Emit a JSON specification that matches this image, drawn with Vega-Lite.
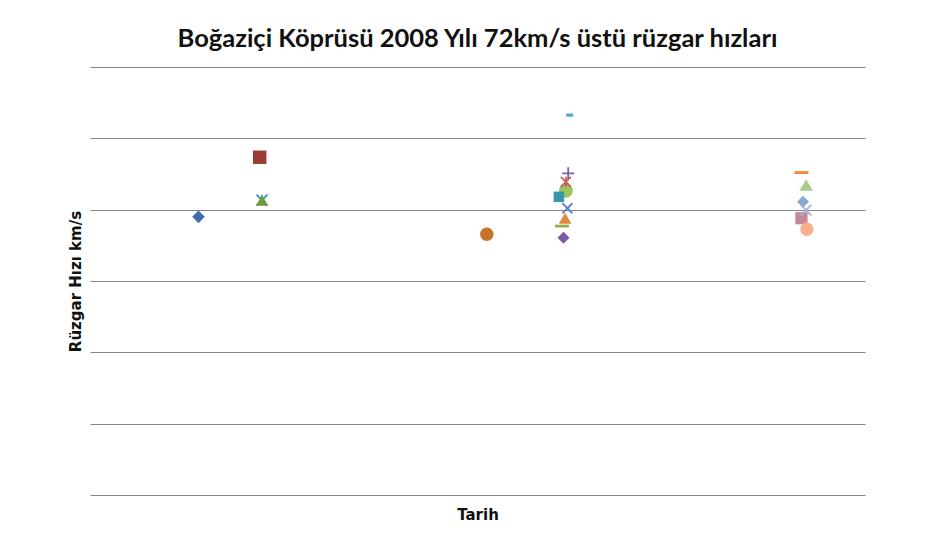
{
  "$schema": "https://vega.github.io/schema/vega-lite/v6.json",
  "width": 775,
  "height": 428,
  "autosize": {"type": "none"},
  "padding": {"left": 90, "top": 67, "right": 65, "bottom": 56},
  "background": "white",
  "title": {
    "text": "Boğaziçi Köprüsü  2008 Yılı 72km/s üstü rüzgar hızları",
    "font": "Lato",
    "fontSize": 25.5,
    "fontWeight": "bold",
    "color": "#111111",
    "anchor": "middle",
    "offset": 15
  },
  "config": {
    "view": {"stroke": null},
    "axis": {"titleFont": "DejaVu Sans", "titleFontWeight": "bold", "titleColor": "#111111"}
  },
  "data": {
    "values": [
      {"seri": "S01", "gun": 14.0, "hiz": 78.0},
      {"seri": "S02", "gun": 21.9, "hiz": 94.7},
      {"seri": "S03", "gun": 22.2, "hiz": 82.7},
      {"seri": "S04", "gun": 22.2, "hiz": 82.7},
      {"seri": "S05", "gun": 22.2, "hiz": 82.6},
      {"seri": "S06", "gun": 51.2, "hiz": 73.1},
      {"seri": "S07", "gun": 61.9, "hiz": 106.5},
      {"seri": "S08", "gun": 61.7, "hiz": 90.2},
      {"seri": "S09", "gun": 61.4, "hiz": 87.8},
      {"seri": "S10", "gun": 61.4, "hiz": 85.3},
      {"seri": "S11", "gun": 60.5, "hiz": 83.6},
      {"seri": "S12", "gun": 61.6, "hiz": 80.4},
      {"seri": "S13", "gun": 61.3, "hiz": 77.6},
      {"seri": "S14", "gun": 60.9, "hiz": 75.4},
      {"seri": "S15", "gun": 61.1, "hiz": 72.1},
      {"seri": "S16", "gun": 91.8, "hiz": 90.4},
      {"seri": "S17", "gun": 92.4, "hiz": 86.9},
      {"seri": "S18", "gun": 92.0, "hiz": 82.2},
      {"seri": "S19", "gun": 92.4, "hiz": 79.9},
      {"seri": "S20", "gun": 91.8, "hiz": 77.6},
      {"seri": "S21", "gun": 92.5, "hiz": 74.5}
    ]
  },
  "encoding": {
    "x": {
      "field": "gun",
      "type": "quantitative",
      "scale": {"domain": [0, 100]},
      "axis": {"title": "Tarih", "titleFontSize": 15, "titlePadding": 12, "labels": false, "ticks": false, "domain": false, "grid": false}
    },
    "y": {
      "field": "hiz",
      "type": "quantitative",
      "scale": {"domain": [0, 120]},
      "axis": {"title": "Rüzgar Hızı km/s", "titleFontSize": 15, "titlePadding": 7, "labels": false, "ticks": false, "domain": false, "grid": true, "values": [0, 20, 40, 60, 80, 100, 120], "gridColor": "#868686", "gridWidth": 1.2, "gridOpacity": 1}
    },
    "color": {
      "field": "seri",
      "type": "nominal",
      "legend": null,
      "scale": {
        "domain": ["S01","S02","S03","S04","S05","S06","S07","S08","S09","S10","S11","S12","S13","S14","S15","S16","S17","S18","S19","S20","S21"],
        "range": ["#3F6FAA","#9B3B38","#8FA0C4","#3AA0B8","#6E9A3E","#C8732A","#4BACC6","#7A5FA6","#C4605B","#9BC45A","#3597A8","#5B84C4","#E08A40","#8DB050","#7B5BA8","#F0883C","#A9CB8E","#8AA8D8","#9DB3DA","#C48A94","#F9B08A"]
      }
    },
    "shape": {
      "field": "seri",
      "type": "nominal",
      "legend": null,
      "scale": {
        "domain": ["S01","S02","S03","S04","S05","S06","S07","S08","S09","S10","S11","S12","S13","S14","S15","S16","S17","S18","S19","S20","S21"],
        "range": ["diamond","square","M-1,-1L1,1M-1,1L1,-1","M-1,-1L1,1M-1,1L1,-1M0,-1V1","triangle-up","circle","M-1,-0.45H1V0.45H-1Z","M-1,0H1M0,-1V1","M-1,-1L1,1M-1,1L1,-1M0,-1V1","circle","square","M-1,-1L1,1M-1,1L1,-1","triangle-up","M-1,-0.2H1V0.2H-1Z","diamond","M-1,-0.2H1V0.2H-1Z","triangle-up","diamond","M-1,-1L1,1M-1,1L1,-1","square","circle"]
      }
    },
    "size": {
      "field": "seri",
      "type": "nominal",
      "legend": null,
      "scale": {
        "type": "ordinal",
        "domain": ["S01","S02","S03","S04","S05","S06","S07","S08","S09","S10","S11","S12","S13","S14","S15","S16","S17","S18","S19","S20","S21"],
        "range": [160, 180, 120, 110, 150, 180, 49, 144, 100, 196, 110, 100, 160, 196, 144, 196, 180, 144, 110, 150, 180]
      }
    }
  },
  "layer": [
    {
      "transform": [{"filter": {"field": "seri", "oneOf": ["S03","S04"]}}],
      "mark": {"type": "point", "filled": false, "opacity": 1, "strokeWidth": 1.8}
    },
    {
      "transform": [{"filter": {"field": "seri", "oneOf": ["S01","S02","S05","S06","S07","S10","S11","S13","S14","S15","S16","S17","S18","S20","S21"]}}],
      "mark": {"type": "point", "filled": true, "opacity": 1, "strokeWidth": 0}
    },
    {
      "transform": [{"filter": {"field": "seri", "oneOf": ["S08","S09","S12","S19"]}}],
      "mark": {"type": "point", "filled": false, "opacity": 1, "strokeWidth": 1.8}
    }
  ]
}
